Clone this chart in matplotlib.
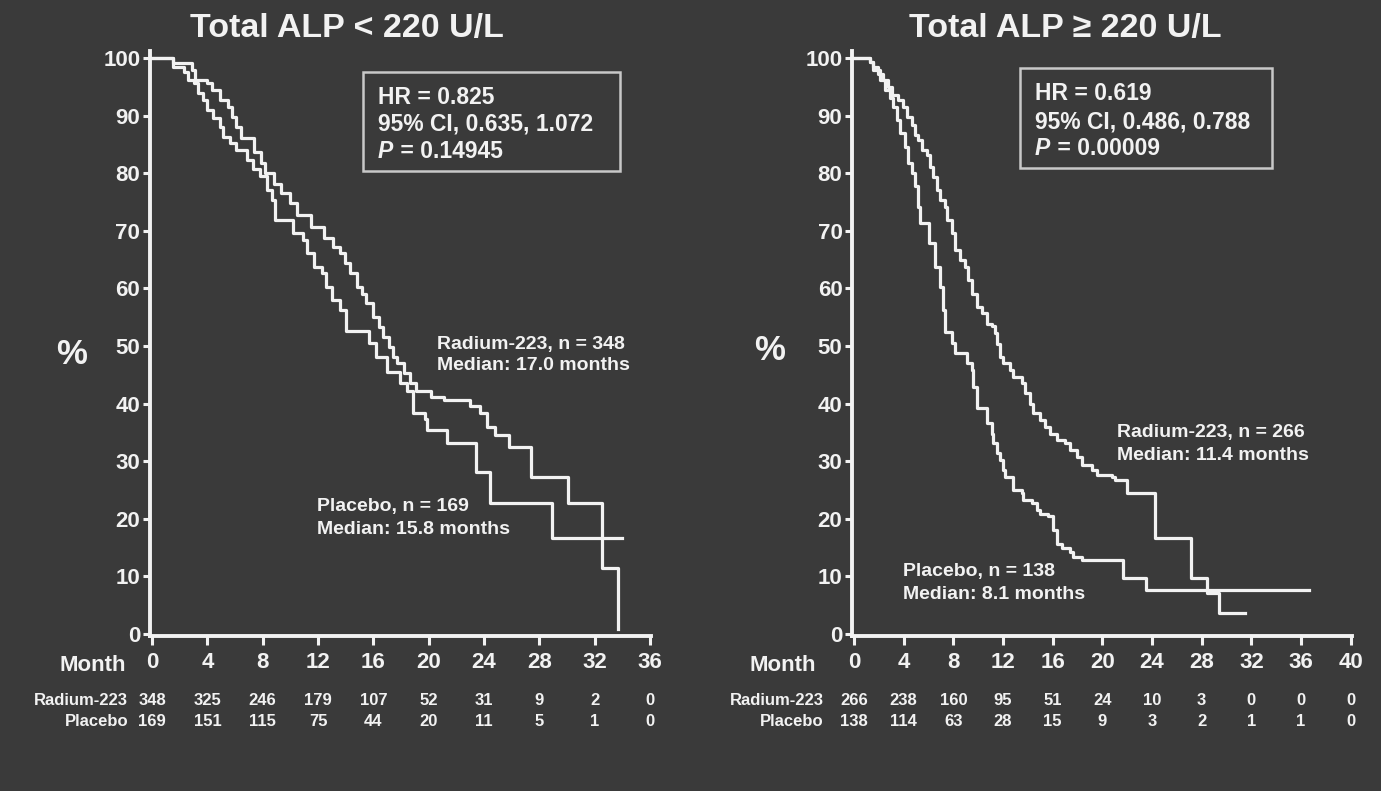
import matplotlib.pyplot as plt
from matplotlib.patches import Rectangle

plt.rcParams['font.family'] = ['Liberation Sans', 'DejaVu Sans']
plt.rcParams['font.weight'] = 'bold'

BG = '#3a3a3a'
FG = '#f2f2f2'
W, H = 1381, 791

# Left panel: Total ALP < 220 U/L (months, % surviving)
left_radium_t = [0, 1.5, 2.9, 3.1, 4.0, 4.3, 4.9, 5.5, 5.8, 6.1, 6.4, 7.4, 7.9, 8.2, 8.8, 9.3,
                 10.0, 10.5, 11.5, 12.4, 13.1, 13.6, 13.95, 14.3, 14.8, 15.2, 15.5, 16.0, 16.4,
                 16.7, 17.1, 17.45, 17.7, 18.2, 18.65, 19.1, 20.2, 21.1, 23.0, 23.7, 24.2, 24.8,
                 25.8, 27.4, 30.1, 32.5, 33.7]
left_radium_s = [100, 99.1, 97.9, 96.2, 95.6, 94.4, 92.7, 91.5, 89.8, 88.1, 86.1, 83.7, 81.7, 80.0,
                 78.2, 76.5, 74.8, 72.8, 70.7, 68.7, 67.2, 66.1, 64.4, 62.6, 60.3, 59.1, 57.4, 55.1,
                 53.3, 51.6, 49.9, 48.1, 47.0, 45.3, 43.5, 42.1, 41.2, 40.6, 39.5, 38.3, 36.0, 34.5,
                 32.5, 27.3, 22.7, 11.4, 0.8]
left_placebo_t = [0, 1.5, 2.3, 2.6, 3.0, 3.35, 3.7, 3.95, 4.4, 4.9, 5.15, 5.6, 6.1, 6.85, 7.3, 7.8,
                  8.3, 8.65, 8.9, 10.2, 10.9, 11.2, 11.7, 12.3, 12.6, 13.0, 13.6, 14.05, 15.7, 16.2,
                  17.0, 17.9, 18.4, 18.9, 19.7, 19.9, 21.3, 23.4, 24.4, 28.9, 34.0]
left_placebo_s = [100, 98.5, 97.6, 96.2, 95.6, 93.9, 92.7, 91.0, 89.5, 88.1, 86.3, 85.2, 84.0, 82.3,
                  80.8, 79.5, 77.1, 75.3, 71.9, 69.6, 68.4, 66.1, 63.8, 62.6, 60.3, 58.0, 56.3, 52.6,
                  50.5, 48.1, 45.5, 43.5, 42.1, 38.3, 37.4, 35.4, 33.1, 28.2, 22.7, 16.6, 16.6]

# Right panel: Total ALP >= 220 U/L
right_radium_t = [0, 1.3, 1.56, 1.96, 2.36, 2.76, 3.03, 3.57, 3.97, 4.24, 4.64, 4.91, 5.18, 5.45,
                  5.85, 6.12, 6.39, 6.66, 6.92, 7.33, 7.46, 7.87, 8.13, 8.53, 8.94, 9.2, 9.48, 9.88,
                  10.28, 10.68, 11.09, 11.35, 11.5, 11.76, 12.02, 12.56, 12.83, 13.5, 13.77, 14.17,
                  14.44, 14.98, 15.38, 15.78, 16.32, 16.99, 17.39, 17.93, 18.33, 19.14, 19.54, 20.75,
                  21.01, 21.96, 24.2, 27.15, 28.45, 29.4, 31.5]
right_radium_s = [100, 99.3, 98.5, 97.3, 96.2, 95.0, 93.6, 92.7, 91.5, 89.8, 88.4, 86.6, 85.8, 84.0,
                  83.2, 81.1, 79.4, 77.1, 75.3, 74.2, 71.9, 69.6, 66.7, 64.9, 63.8, 61.5, 59.1, 56.8,
                  55.7, 53.9, 53.4, 52.2, 50.3, 48.1, 47.0, 45.8, 44.7, 43.5, 41.8, 40.0, 38.3, 37.2,
                  36.0, 34.8, 33.7, 33.1, 31.9, 30.8, 29.3, 28.5, 27.6, 27.3, 26.7, 24.4, 16.6, 9.7,
                  7.1, 3.6, 3.6]
right_placebo_t = [0, 1.3, 1.56, 2.09, 2.5, 2.9, 3.17, 3.44, 3.7, 4.1, 4.37, 4.64, 4.91, 5.18, 5.31,
                   6.05, 6.52, 6.92, 7.19, 7.33, 7.9, 8.1, 9.1, 9.48, 9.6, 9.88, 10.7, 11.09, 11.22,
                   11.49, 11.76, 12.02, 12.16, 12.83, 13.5, 13.63, 14.3, 14.71, 14.98, 15.64, 16.05,
                   16.32, 16.72, 17.39, 17.66, 18.33, 21.68, 23.5, 36.6]
right_placebo_s = [100, 99.3, 97.9, 96.2, 94.4, 93.0, 91.5, 89.2, 86.9, 84.6, 81.7, 80.0, 77.7, 74.2,
                   71.3, 67.8, 63.8, 60.3, 56.3, 52.5, 50.5, 48.7, 47.0, 45.8, 42.9, 39.3, 36.6, 34.8,
                   33.1, 31.4, 30.2, 28.5, 27.3, 25.0, 24.4, 23.3, 22.7, 21.5, 20.9, 20.4, 18.1, 15.7,
                   14.9, 14.3, 13.4, 12.8, 9.7, 7.6, 7.6]

# Numbers at risk
left_months = [0, 4, 8, 12, 16, 20, 24, 28, 32, 36]
left_risk_radium = [348, 325, 246, 179, 107, 52, 31, 9, 2, 0]
left_risk_placebo = [169, 151, 115, 75, 44, 20, 11, 5, 1, 0]
right_months = [0, 4, 8, 12, 16, 20, 24, 28, 32, 36, 40]
right_risk_radium = [266, 238, 160, 95, 51, 24, 10, 3, 0, 0, 0]
right_risk_placebo = [138, 114, 63, 28, 15, 9, 3, 2, 1, 1, 0]
yticks = [0, 10, 20, 30, 40, 50, 60, 70, 80, 90, 100]


def fx(px):
    return px / W


def fy(py):
    return 1 - py / H


def rect(x0, x1, top, bottom):
    return [fx(x0), fy(bottom), (x1 - x0) / W, (bottom - top) / H]


def axfrac(py):
    # pixel row -> axes fraction (axes bottom 636.3, height 585.8)
    return (636.3 - py) / 585.8


def panel(ax, xmax, months, risk_r, risk_p, label_x, month_x):
    ax.set_facecolor('none')
    for s in ['top', 'right']:
        ax.spines[s].set_visible(False)
    for s in ['left', 'bottom']:
        ax.spines[s].set_color(FG)
        ax.spines[s].set_linewidth(2.8)
    ax.set_xlim(-0.15, xmax + 0.1)
    ax.set_ylim(-0.4, 101.3)
    ax.set_xticks(months)
    ax.set_yticks(yticks)
    ax.tick_params(axis='y', length=5, width=2.2, pad=2, labelsize=16, colors=FG)
    ax.tick_params(axis='x', length=6.5, width=2.2, pad=5, labelsize=16, colors=FG)
    tr = ax.get_xaxis_transform()
    ax.text(month_x, axfrac(671), 'Month', transform=tr, ha='right', va='baseline',
            fontsize=16, color=FG)
    ax.text(label_x, axfrac(705), 'Radium-223', transform=tr, ha='right', va='baseline',
            fontsize=12, color=FG)
    ax.text(label_x, axfrac(726), 'Placebo', transform=tr, ha='right', va='baseline',
            fontsize=12, color=FG)
    for m, r, p in zip(months, risk_r, risk_p):
        ax.text(m, axfrac(705), str(r), transform=tr, ha='center', va='baseline',
                fontsize=12, color=FG)
        ax.text(m, axfrac(726), str(p), transform=tr, ha='center', va='baseline',
                fontsize=12, color=FG)


def stats_box(x0, x1, top, bottom, tx, baselines, hr, ci, p):
    fig.patches.append(Rectangle((fx(x0), fy(bottom)), (x1 - x0) / W, (bottom - top) / H,
                                 transform=fig.transFigure, fill=False,
                                 edgecolor='#c8c8c8', linewidth=1.8))
    fig.text(fx(tx), fy(baselines[0]), 'HR = ' + hr, fontsize=16.5, color=FG, va='baseline')
    fig.text(fx(tx), fy(baselines[1]), '95% CI, ' + ci, fontsize=16.5, color=FG, va='baseline')
    fig.text(fx(tx), fy(baselines[2]), 'P', fontsize=16.5, color=FG, va='baseline',
             style='italic')
    fig.text(fx(tx + 16), fy(baselines[2]), ' = ' + p, fontsize=16.5, color=FG,
             va='baseline')


fig = plt.figure(figsize=(W / 100, H / 100), dpi=100, facecolor=BG)

ax1 = fig.add_axes(rect(150, 651.3, 50.5, 636.3))
ax1.step(left_radium_t, left_radium_s, where='post', color=FG, lw=2.3)
ax1.step(left_placebo_t, left_placebo_s, where='post', color=FG, lw=2.3)
panel(ax1, 36, left_months, left_risk_radium, left_risk_placebo, -1.74, -1.88)
ax1.text(20.6, 49.5, 'Radium-223, n = 348', fontsize=14, color=FG, va='baseline')
ax1.text(20.6, 45.8, 'Median: 17.0 months', fontsize=14, color=FG, va='baseline')
ax1.text(11.9, 21.4, 'Placebo, n = 169', fontsize=14, color=FG, va='baseline')
ax1.text(11.9, 17.4, 'Median: 15.8 months', fontsize=14, color=FG, va='baseline')

ax2 = fig.add_axes(rect(852.1, 1352.0, 50.5, 636.3))
ax2.step(right_radium_t, right_radium_s, where='post', color=FG, lw=2.3)
ax2.step(right_placebo_t, right_placebo_s, where='post', color=FG, lw=2.3)
panel(ax2, 40, right_months, right_risk_radium, right_risk_placebo, -2.42, -3.06)
ax2.text(21.2, 34.2, 'Radium-223, n = 266', fontsize=14, color=FG, va='baseline')
ax2.text(21.2, 30.2, 'Median: 11.4 months', fontsize=14, color=FG, va='baseline')
ax2.text(3.95, 10.1, 'Placebo, n = 138', fontsize=14, color=FG, va='baseline')
ax2.text(3.95, 6.1, 'Median: 8.1 months', fontsize=14, color=FG, va='baseline')

fig.text(fx(347), fy(37), 'Total ALP < 220 U/L', ha='center', va='baseline', fontsize=24.5,
         color=FG)
fig.text(fx(1065), fy(37), 'Total ALP \u2265 220 U/L', ha='center', va='baseline',
         fontsize=24.5, color=FG)
fig.text(fx(72), fy(364), '%', ha='center', va='baseline', fontsize=25, color=FG)
fig.text(fx(770), fy(360), '%', ha='center', va='baseline', fontsize=25, color=FG)

stats_box(363, 620, 72, 171, 378, [103.5, 130.5, 158.5], '0.825', '0.635, 1.072', '0.14945')
stats_box(1020, 1272, 68, 168, 1035, [100.5, 128, 155], '0.619', '0.486, 0.788', '0.00009')

fig.savefig('out.png', dpi=100, facecolor=BG)
